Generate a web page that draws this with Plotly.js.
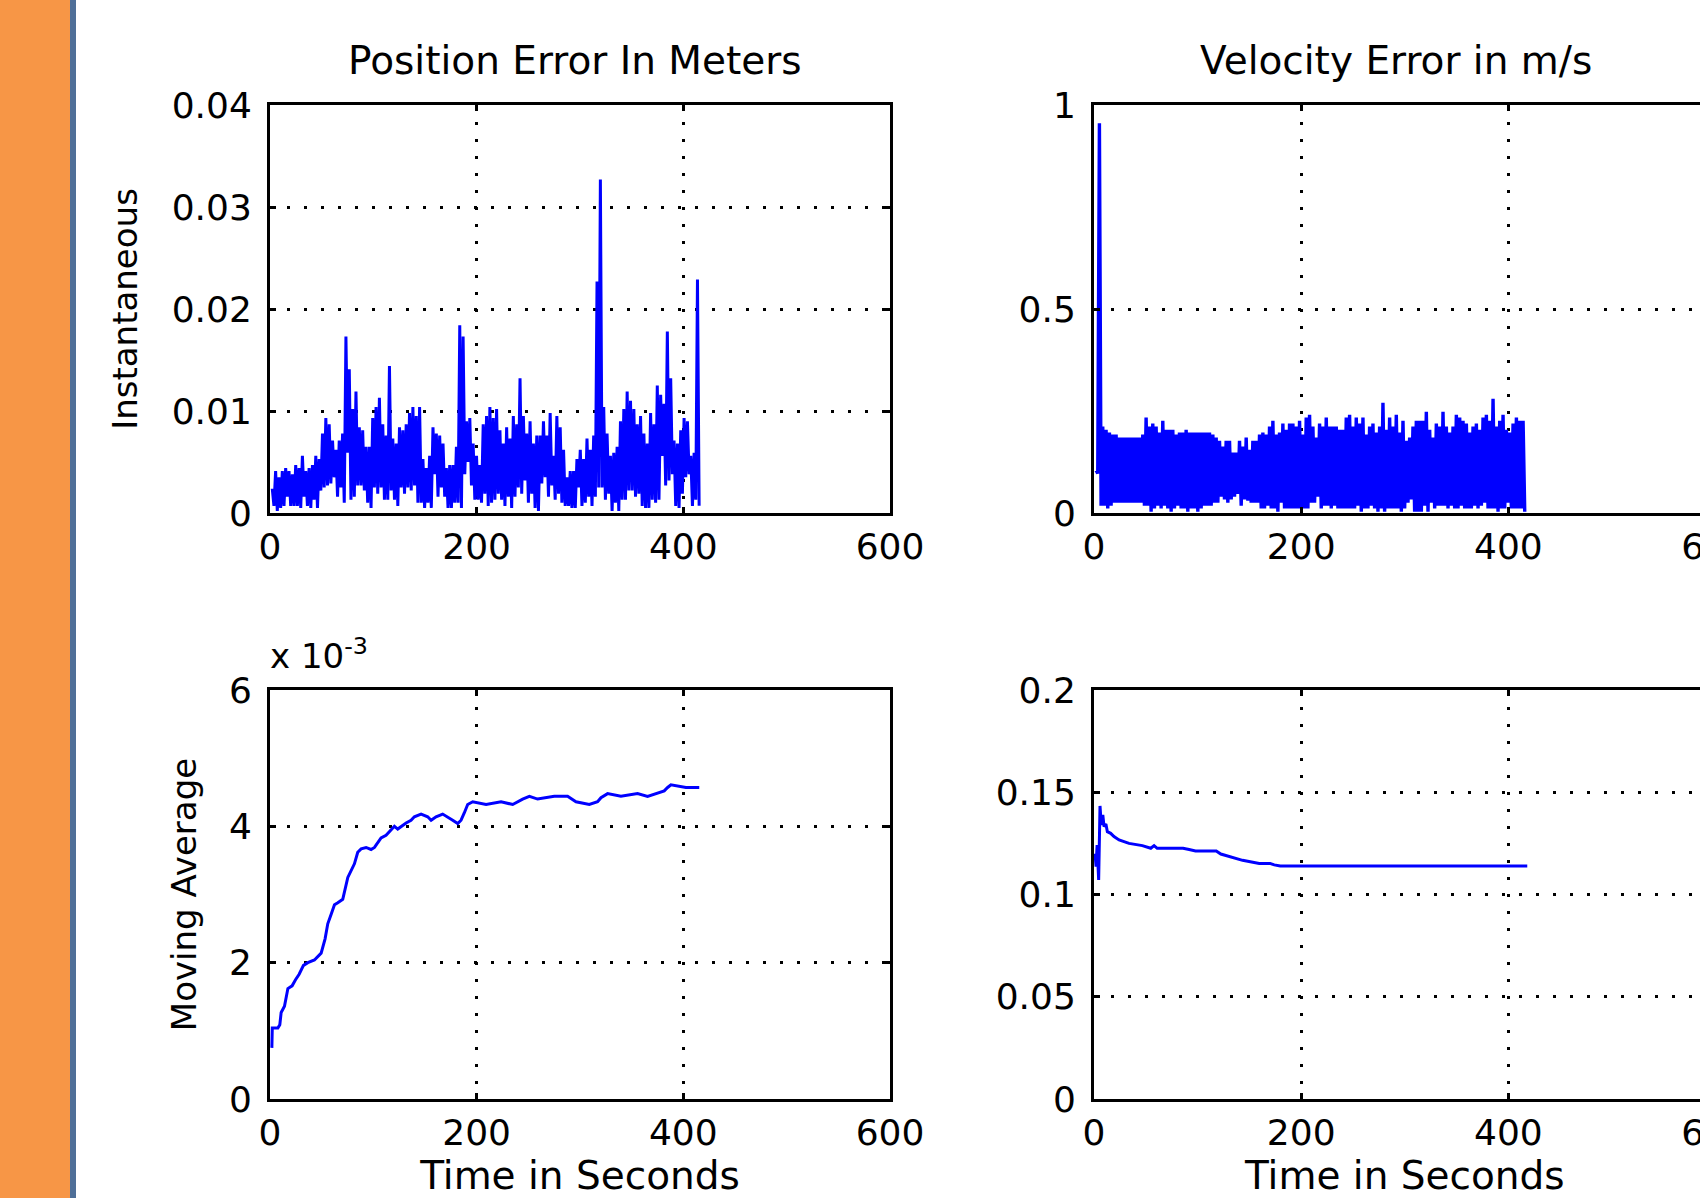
<!DOCTYPE html>
<html>
<head>
<meta charset="utf-8">
<script src="https://cdn.plot.ly/plotly-3.0.1.min.js"></script>
<style>
html,body{margin:0;padding:0;overflow:hidden;background:#ffffff;width:1700px;height:1198px;}
#chart{width:1760px;height:1198px;}
</style>
</head>
<body>
<div id="chart"></div>
<script>
// ---------------- data ----------------
// Instantaneous position error (m): per ~3.2 s display column, upper and lower extent
const posErrHigh = [
0.0024,0.0041,0.0035,0.0041,0.0044,0.0041,0.0038,0.0047,0.0044,0.0056,
0.0041,0.0044,0.0047,0.0056,0.0053,0.0078,0.0093,0.0087,0.0071,0.0062,
0.0071,0.0078,0.0173,0.0141,0.0102,0.0119,0.0084,0.0081,0.0065,0.0065,
0.0093,0.0104,0.0113,0.0087,0.0076,0.0144,0.0073,0.0068,0.0084,0.0081,
0.0087,0.0098,0.0104,0.0095,0.0104,0.0053,0.0044,0.0056,0.0084,0.0078,
0.0076,0.0068,0.0044,0.0047,0.0047,0.0065,0.0184,0.0173,0.0090,0.0093,
0.0068,0.0056,0.0047,0.0087,0.0095,0.0104,0.0093,0.0102,0.0081,0.0068,
0.0084,0.0073,0.0095,0.0087,0.0132,0.0095,0.0078,0.0090,0.0068,0.0076,
0.0076,0.0090,0.0076,0.0098,0.0056,0.0095,0.0084,0.0062,0.0035,0.0041,
0.0041,0.0053,0.0062,0.0053,0.0073,0.0062,0.0076,0.0227,0.0327,0.0104,
0.0078,0.0056,0.0059,0.0065,0.0090,0.0102,0.0119,0.0110,0.0102,0.0087,
0.0095,0.0078,0.0068,0.0098,0.0087,0.0125,0.0116,0.0107,0.0178,0.0132,
0.0071,0.0068,0.0081,0.0093,0.0090,0.0056,0.0059,0.0229];
const posErrLow = [
0.0007,0.0002,0.0005,0.0007,0.0016,0.0007,0.0007,0.0007,0.0005,0.0016,
0.0007,0.0005,0.0013,0.0005,0.0022,0.0025,0.0027,0.0029,0.0035,0.0016,
0.0025,0.0010,0.0059,0.0013,0.0016,0.0027,0.0027,0.0022,0.0010,0.0005,
0.0025,0.0019,0.0025,0.0013,0.0013,0.0022,0.0013,0.0007,0.0025,0.0019,
0.0025,0.0022,0.0027,0.0010,0.0010,0.0005,0.0010,0.0005,0.0038,0.0016,
0.0025,0.0016,0.0005,0.0005,0.0010,0.0010,0.0005,0.0038,0.0050,0.0027,
0.0013,0.0013,0.0010,0.0019,0.0007,0.0010,0.0013,0.0019,0.0013,0.0007,
0.0016,0.0005,0.0016,0.0025,0.0019,0.0032,0.0010,0.0019,0.0005,0.0002,
0.0029,0.0035,0.0016,0.0027,0.0013,0.0019,0.0010,0.0007,0.0007,0.0005,
0.0005,0.0025,0.0007,0.0010,0.0016,0.0007,0.0016,0.0025,0.0025,0.0013,
0.0019,0.0002,0.0010,0.0002,0.0013,0.0013,0.0022,0.0022,0.0016,0.0019,
0.0007,0.0005,0.0005,0.0013,0.0010,0.0013,0.0056,0.0027,0.0032,0.0038,
0.0007,0.0005,0.0019,0.0035,0.0038,0.0007,0.0013,0.0007];

// Instantaneous velocity error (m/s): per display column, upper and lower extent
const velErrHigh = [
0.105,
0.955,0.212,0.204,0.197,0.192,0.192,0.185,0.185,0.185,0.185,
0.185,0.185,0.185,0.192,0.234,0.212,0.219,0.212,0.197,0.226,
0.204,0.204,0.204,0.192,0.197,0.197,0.204,0.197,0.197,0.197,
0.197,0.197,0.197,0.197,0.192,0.185,0.177,0.163,0.177,0.177,
0.148,0.148,0.177,0.163,0.185,0.155,0.177,0.177,0.192,0.197,
0.192,0.212,0.226,0.192,0.197,0.219,0.204,0.219,0.219,0.212,
0.226,0.192,0.234,0.241,0.212,0.185,0.219,0.212,0.234,0.212,
0.212,0.212,0.204,0.204,0.234,0.241,0.212,0.234,0.219,0.234,
0.192,0.212,0.219,0.197,0.212,0.270,0.204,0.234,0.212,0.241,
0.197,0.226,0.177,0.185,0.212,0.226,0.226,0.226,0.248,0.204,
0.185,0.219,0.212,0.248,0.212,0.197,0.212,0.241,0.234,0.226,
0.219,0.197,0.212,0.219,0.204,0.234,0.241,0.226,0.280,0.212,
0.226,0.241,0.204,0.197,0.219,0.234,0.226,0.226];
const velErrLow = [
0.097,
0.018,0.018,0.011,0.018,0.025,0.025,0.025,0.025,0.025,0.025,
0.025,0.025,0.025,0.018,0.018,0.003,0.011,0.018,0.011,0.018,
0.011,0.003,0.011,0.018,0.011,0.011,0.003,0.011,0.011,0.003,
0.011,0.018,0.018,0.018,0.025,0.025,0.040,0.033,0.025,0.033,
0.040,0.047,0.018,0.033,0.030,0.025,0.025,0.025,0.011,0.011,
0.018,0.011,0.011,0.003,0.025,0.011,0.011,0.011,0.011,0.011,
0.011,0.011,0.011,0.025,0.025,0.040,0.011,0.018,0.018,0.011,
0.018,0.011,0.011,0.011,0.011,0.011,0.011,0.018,0.003,0.011,
0.011,0.018,0.011,0.003,0.011,0.003,0.011,0.011,0.011,0.011,
0.003,0.011,0.025,0.033,0.003,0.003,0.003,0.018,0.003,0.025,
0.011,0.018,0.018,0.018,0.011,0.018,0.011,0.011,0.018,0.011,
0.011,0.011,0.018,0.011,0.018,0.025,0.011,0.011,0.011,0.003,
0.011,0.011,0.025,0.011,0.011,0.011,0.011,0.003];

// Moving average of position error (m)
const posAvgTime = [1.8,2.2,7.6,9.5,10.8,14.0,17.3,21.4,24.7,28.2,32.4,36.6,43.0,46.3,49.5,53.3,55.9,59.2,62.4,65.6,
70.4,75.3,78.5,81.7,84.9,88.2,93.0,97.8,101.1,104.3,107.5,112.3,117.2,120.4,123.6,126.8,131.7,136.5,139.7,146.2,
152.6,155.9,160.7,167.1,172.0,176.8,181.7,184.9,188.1,191.3,196.2,209.1,223.6,234.9,244.5,251.0,259.0,275.1,288.0,296.1,
309.0,317.0,320.3,326.7,339.6,355.7,365.4,373.5,381.5,384.8,388.0,402.5,415.4];
const posAvgValue = [0.00075,0.00104,0.00104,0.00109,0.00127,0.00136,0.00162,0.00166,0.00175,0.00183,0.00196,0.00200,0.00204,0.00209,0.00214,0.00235,0.00257,0.00271,0.00285,0.00288,
0.00293,0.00325,0.00335,0.00345,0.00362,0.00367,0.00369,0.00366,0.00369,0.00376,0.00383,0.00387,0.00395,0.00400,0.00396,0.00400,0.00405,0.00409,0.00414,0.00418,
0.00414,0.00409,0.00414,0.00418,0.00414,0.00409,0.00404,0.00409,0.00420,0.00432,0.00436,0.00432,0.00436,0.00432,0.00440,0.00444,0.00440,0.00444,0.00444,0.00436,
0.00432,0.00436,0.00442,0.00448,0.00444,0.00448,0.00444,0.00448,0.00452,0.00457,0.00461,0.00457,0.00457];

// Moving average of velocity error (m/s)
const velAvgTime = [1.0,2.0,3.0,4.5,5.8,7.0,8.5,9.7,11.5,12.9,16.1,19.3,24.2,33.8,46.7,54.8,58.0,61.0,72.5,86.0,
91.8,98.0,108.0,118.0,122.4,132.1,143.4,159.5,170.0,174.0,179.8,250.0,330.0,418.2];
const velAvgValue = [0.1200,0.1136,0.1242,0.1071,0.1433,0.1340,0.1389,0.1332,0.1345,0.1307,0.1299,0.1283,0.1267,0.1250,0.1239,0.1226,0.1239,0.1226,0.1226,0.1226,
0.1220,0.1213,0.1213,0.1213,0.1198,0.1182,0.1167,0.1152,0.1152,0.1145,0.1139,0.1139,0.1139,0.1139];

// ticks and labels
const timeTicks = [0, 200, 400, 600];
const posTicks = [0, 0.01, 0.02, 0.03, 0.04];
const velTicks = [0, 0.5, 1];
const posAvgTicks = [0, 0.002, 0.004, 0.006];
const posAvgTickText = ['0', '2', '4', '6'];
const velAvgTicks = [0, 0.05, 0.1, 0.15, 0.2];

const titlePos = 'Position Error In Meters';
const titleVel = 'Velocity Error in m/s';
const labelInst = 'Instantaneous';
const labelAvg = 'Moving Average';
const labelTime = 'Time in Seconds';
const scaleNote = 'x 10<sup>-3</sup>';

// ---------------- figure ----------------
const W = 1760, H = 1198;
const FONT = 'DejaVu Sans, Liberation Sans, Arial, sans-serif';
const BLUE = '#0000ff';

function zigzag(high, low) {
  const out = [];
  for (let i = 0; i < high.length; i++) { out.push(high[i], low[i]); }
  return out;
}
const px = v => v / W;
const py = v => 1 - v / H;

const data = [
  {type: 'scatter', mode: 'lines', x0: 2.2, dx: 1.62, y: zigzag(posErrHigh, posErrLow),
   xaxis: 'x', yaxis: 'y', line: {color: BLUE, width: 3}, hoverinfo: 'skip'},
  {type: 'scatter', mode: 'lines', x0: 2.0, dx: 1.61, y: zigzag(velErrHigh, velErrLow),
   xaxis: 'x2', yaxis: 'y2', line: {color: BLUE, width: 3.4}, hoverinfo: 'skip'},
  {type: 'scatter', mode: 'lines', x: posAvgTime, y: posAvgValue,
   xaxis: 'x3', yaxis: 'y3', line: {color: BLUE, width: 3}, hoverinfo: 'skip'},
  {type: 'scatter', mode: 'lines', x: velAvgTime, y: velAvgValue,
   xaxis: 'x4', yaxis: 'y4', line: {color: BLUE, width: 3}, hoverinfo: 'skip'}
];

function axis(extra) {
  return Object.assign({
    showline: true, linecolor: '#000000', linewidth: 3, mirror: 'ticks',
    ticks: 'inside', ticklen: 6, tickwidth: 3, tickcolor: '#000000',
    showgrid: true, gridcolor: '#000000', gridwidth: 3, griddash: '3px,14px',
    zeroline: false, fixedrange: true,
    tickfont: {family: FONT, size: 36, color: '#000000'}
  }, extra);
}

const leftDom = [px(270), px(890)];
const rightDom = [px(1094), px(1715.6)];
const topDom = [py(513), py(105)];
const botDom = [py(1099), py(690)];

const xTitle = {text: labelTime, font: {family: FONT, size: 39, color: '#000000'}, standoff: 36};

const layout = {
  width: W, height: H,
  margin: {l: 0, r: 0, t: 0, b: 0, pad: 0},
  paper_bgcolor: '#ffffff', plot_bgcolor: '#ffffff',
  showlegend: false, hovermode: false,
  font: {family: FONT, color: '#000000'},
  xaxis: axis({domain: leftDom, anchor: 'y', range: [0, 600], tickvals: timeTicks, ticklabelstandoff: 0}),
  yaxis: axis({domain: topDom, anchor: 'x', range: [0, 0.04], tickvals: posTicks, ticklabelstandoff: 8,
    title: {text: labelInst, font: {family: FONT, size: 34, color: '#000000'}, standoff: 24}}),
  xaxis2: axis({domain: rightDom, anchor: 'y2', range: [0, 600], tickvals: timeTicks, ticklabelstandoff: 0}),
  yaxis2: axis({domain: topDom, anchor: 'x2', range: [0, 1], tickvals: velTicks, ticklabelstandoff: 8}),
  xaxis3: axis({domain: leftDom, anchor: 'y3', range: [0, 600], tickvals: timeTicks, ticklabelstandoff: 0, title: xTitle}),
  yaxis3: axis({domain: botDom, anchor: 'x3', range: [0, 0.006], tickvals: posAvgTicks, ticktext: posAvgTickText, ticklabelstandoff: 8,
    title: {text: labelAvg, font: {family: FONT, size: 34, color: '#000000'}, standoff: 22}}),
  xaxis4: axis({domain: rightDom, anchor: 'y4', range: [0, 600], tickvals: timeTicks, ticklabelstandoff: 0, title: xTitle}),
  yaxis4: axis({domain: botDom, anchor: 'x4', range: [0, 0.2], tickvals: velAvgTicks, ticklabelstandoff: 8}),
  annotations: [
    {text: titlePos, xref: 'paper', yref: 'paper', x: px(575), y: py(60), xanchor: 'center', yanchor: 'middle',
     showarrow: false, font: {family: FONT, size: 39, color: '#000000'}},
    {text: titleVel, xref: 'paper', yref: 'paper', x: px(1396), y: py(60), xanchor: 'center', yanchor: 'middle',
     showarrow: false, font: {family: FONT, size: 39, color: '#000000'}},
    {text: scaleNote, xref: 'paper', yref: 'paper', x: px(268), y: py(654), xanchor: 'left', yanchor: 'middle',
     showarrow: false, font: {family: FONT, size: 34, color: '#000000'}}
  ],
  shapes: [
    {type: 'rect', xref: 'paper', yref: 'paper', x0: 0, x1: px(70), y0: 0, y1: 1,
     fillcolor: '#f79646', line: {width: 0}, layer: 'below'},
    {type: 'rect', xref: 'paper', yref: 'paper', x0: px(70), x1: px(76), y0: 0, y1: 1,
     fillcolor: '#4f6f98', line: {width: 0}, layer: 'below'}
  ]
};

Plotly.newPlot('chart', data, layout, {staticPlot: true, displayModeBar: false});
</script>
</body>
</html>
